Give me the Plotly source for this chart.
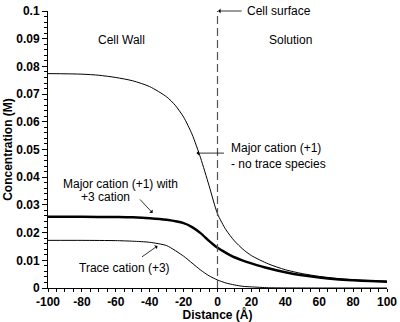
import plotly.graph_objects as go

# Distance (Å) sample points
dist_major = [-100, -80, -70, -60, -50, -40, -30, -25, -20, -15, -10, -5, 0, 5, 10, 15, 20, 30, 40, 50, 60, 70, 80, 90, 100]
conc_major = [0.0774, 0.0772, 0.0768, 0.0760, 0.0748, 0.0727, 0.0690, 0.0660, 0.0617, 0.0555, 0.0470, 0.0370, 0.0268, 0.0210, 0.0170, 0.0140, 0.0117, 0.0087, 0.0066, 0.0052, 0.0042, 0.0035, 0.0030, 0.0027, 0.0025]

dist_with3 = [-100, -80, -60, -50, -40, -30, -20, -15, -10, -5, 0, 5, 10, 15, 20, 30, 40, 50, 60, 70, 80, 90, 100]
conc_with3 = [0.0257, 0.0257, 0.0256, 0.0255, 0.0252, 0.0246, 0.0234, 0.0220, 0.0198, 0.0170, 0.0145, 0.0127, 0.0111, 0.0099, 0.0089, 0.0071, 0.0057, 0.0046, 0.0038, 0.0032, 0.0028, 0.0025, 0.0023]

dist_trace = [-100, -80, -60, -50, -40, -30, -20, -15, -10, -5, 0, 5, 10, 15, 20, 30, 40, 60, 100]
conc_trace = [0.0172, 0.0172, 0.0171, 0.0169, 0.0165, 0.0153, 0.0115, 0.0090, 0.0065, 0.0044, 0.0029, 0.0018, 0.0011, 0.0006, 0.0004, 0.0001, 0.00003, 0.0, 0.0]

x_ticks = [-100, -80, -60, -40, -20, 0, 20, 40, 60, 80, 100]
x_ticktext = ["-100", "-80", "-60", "-40", "-20", "0", "20", "40", "60", "80", "100"]
y_ticks = [0, 0.01, 0.02, 0.03, 0.04, 0.05, 0.06, 0.07, 0.08, 0.09, 0.1]
y_ticktext = ["0", "0.01", "0.02", "0.03", "0.04", "0.05", "0.06", "0.07", "0.08", "0.09", "0.1"]

FONT = "Liberation Sans, Arial, Helvetica, sans-serif"

fig = go.Figure()
fig.add_trace(go.Scatter(x=dist_major, y=conc_major, mode="lines",
                         line=dict(color="black", width=1, shape="spline", smoothing=0.7)))
fig.add_trace(go.Scatter(x=dist_with3, y=conc_with3, mode="lines",
                         line=dict(color="black", width=2.5, shape="spline", smoothing=0.7)))
fig.add_trace(go.Scatter(x=dist_trace, y=conc_trace, mode="lines",
                         line=dict(color="black", width=1, shape="spline", smoothing=0.6)))

# cell surface dashed line
fig.add_shape(type="line", x0=0, x1=0, y0=0, y1=0.1, xref="x", yref="y",
              line=dict(color="#555555", width=1.2, dash="8px,4px"))

ann_font = dict(family=FONT, size=12, color="black")
arrow_kw = dict(showarrow=True, arrowhead=1, arrowsize=1, arrowwidth=0.8, arrowcolor="black",
                axref="pixel", ayref="pixel", text="")

fig.add_annotation(x=-56.6, y=0.0895, text="Cell Wall", showarrow=False, font=ann_font)
fig.add_annotation(x=42.8, y=0.0895, text="Solution", showarrow=False, font=ann_font)

fig.add_annotation(x=16.5, y=0.1, text="Cell surface", showarrow=False, xanchor="left", font=ann_font)
fig.add_annotation(x=0.4, y=0.1, ax=25, ay=0, **arrow_kw)

fig.add_annotation(x=6.5, y=0.0475, text="Major cation (+1)<br>- no trace species",
                   showarrow=False, xanchor="left", align="left", font=ann_font)
fig.add_annotation(x=-12.4, y=0.0487, ax=29, ay=0, **arrow_kw)

fig.add_annotation(x=-57.2, y=0.0375, text="Major cation (+1) with", showarrow=False, font=ann_font)
fig.add_annotation(x=-66.1, y=0.0329, text="+3 cation", showarrow=False, font=ann_font)
fig.add_annotation(x=-38.3, y=0.0271, ax=-14, ay=-15, **arrow_kw)

fig.add_annotation(x=-54.9, y=0.0072, text="Trace cation (+3)", showarrow=False, font=ann_font)
fig.add_annotation(x=-35.4, y=0.0152, ax=-17, ay=12, **arrow_kw)

tick_font = dict(family=FONT, size=12, color="black", weight="bold")
fig.update_xaxes(range=[-100, 100], tickvals=x_ticks, ticktext=x_ticktext, automargin=False,
                 showgrid=False, zeroline=False, showline=True, linecolor="black", linewidth=1,
                 ticks="outside", ticklen=3, tickwidth=1, tickcolor="black",
                 minor=dict(dtick=5, ticks="outside", ticklen=3, tickcolor="black", showgrid=False),
                 tickfont=tick_font,
                 title=dict(text="Distance (Å)", font=dict(family=FONT, size=12, weight="bold"), standoff=4))
fig.update_yaxes(range=[0, 0.1], tickvals=y_ticks, ticktext=y_ticktext, automargin=False,
                 showgrid=False, zeroline=False, showline=True, linecolor="black", linewidth=1,
                 ticks="outside", ticklen=5, tickwidth=1, tickcolor="black",
                 minor=dict(dtick=0.002, ticks="outside", ticklen=3, tickcolor="black", showgrid=False),
                 tickfont=tick_font,
                 title=dict(text="Concentration (M)", font=dict(family=FONT, size=12, weight="bold"), standoff=1))

fig.update_layout(width=400, height=322, showlegend=False,
                  margin=dict(l=48, r=13, t=11, b=34, autoexpand=False),
                  plot_bgcolor="white", paper_bgcolor="white",
                  font=dict(family=FONT, color="black"))

fig.write_html("out.html", config={"displayModeBar": False},
               post_script="document.body.style.margin='0';document.body.style.overflow='hidden';")
